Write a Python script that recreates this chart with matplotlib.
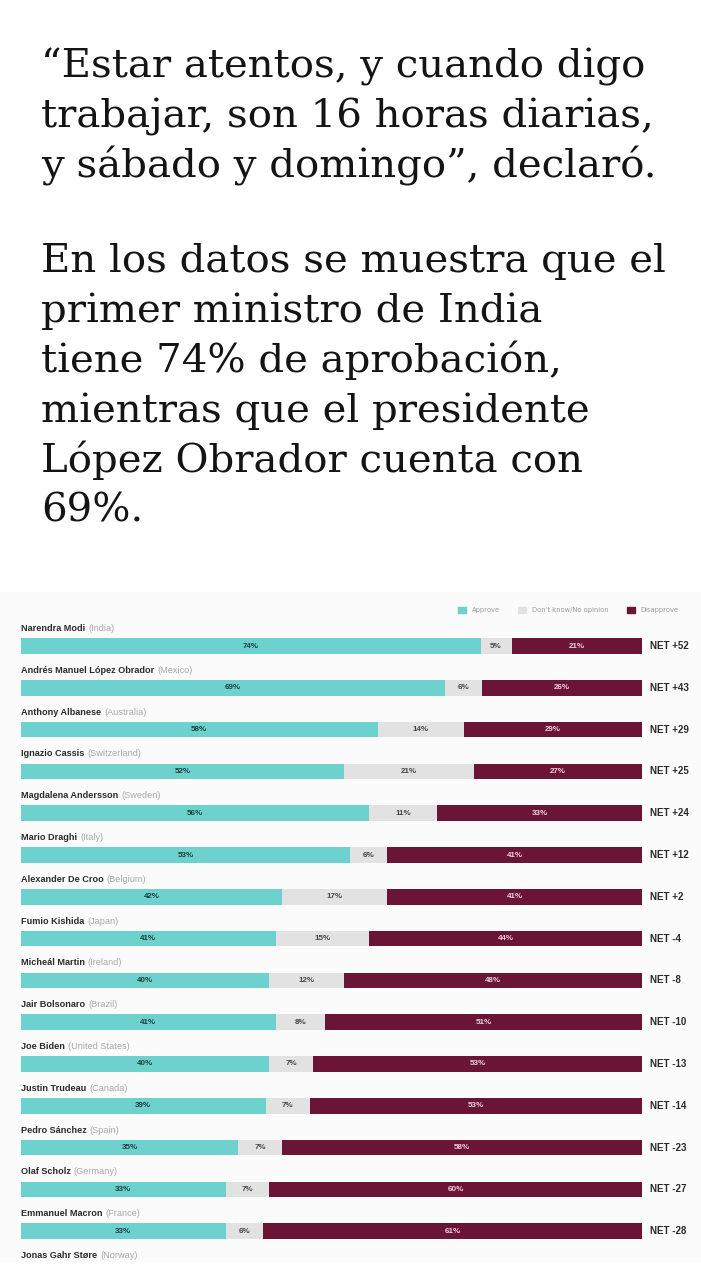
import matplotlib
matplotlib.use('Agg')
import matplotlib.pyplot as plt
from matplotlib.patches import Patch
import numpy as np

# ---- text above the chart ----
para1 = ["\u201cEstar atentos, y cuando digo",
         "trabajar, son 16 horas diarias,",
         "y s\u00e1bado y domingo\u201d, declar\u00f3."]
para2 = ["En los datos se muestra que el",
         "primer ministro de India",
         "tiene 74% de aprobaci\u00f3n,",
         "mientras que el presidente",
         "L\u00f3pez Obrador cuenta con",
         "69%."]

# ---- chart data ----
names = ["Narendra Modi", "Andr\u00e9s Manuel L\u00f3pez Obrador", "Anthony Albanese",
         "Ignazio Cassis", "Magdalena Andersson", "Mario Draghi",
         "Alexander De Croo", "Fumio Kishida", "Miche\u00e1l Martin",
         "Jair Bolsonaro", "Joe Biden", "Justin Trudeau",
         "Pedro S\u00e1nchez", "Olaf Scholz", "Emmanuel Macron",
         "Jonas Gahr St\u00f8re"]
countries = ["India", "Mexico", "Australia", "Switzerland", "Sweden", "Italy",
             "Belgium", "Japan", "Ireland", "Brazil", "United States", "Canada",
             "Spain", "Germany", "France", "Norway"]
approve = [74, 69, 58, 52, 56, 53, 42, 41, 40, 41, 40, 39, 35, 33, 33]
dont_know = [5, 6, 14, 21, 11, 6, 17, 15, 12, 8, 7, 7, 7, 7, 6]
disapprove = [21, 26, 29, 27, 33, 41, 41, 44, 48, 51, 53, 53, 58, 60, 61]
net = ["+52", "+43", "+29", "+25", "+24", "+12", "+2", "-4", "-8",
       "-10", "-13", "-14", "-23", "-27", "-28"]

TEAL = '#6dd2cd'
GREY = '#e2e2e2'
MAROON = '#6a1535'

W, H = 701, 1280
fig = plt.figure(figsize=(W / 100, H / 100), dpi=100)
fig.patch.set_facecolor('white')

def fy(px):
    return 1 - px / H

serif = dict(family='DejaVu Serif', fontsize=29, color='#141414', va='baseline', ha='left')
for i, line in enumerate(para1):
    fig.text(41 / W, fy(77 + i * 50.5), line, **serif)
for i, line in enumerate(para2):
    fig.text(41 / W, fy(272 + i * 50), line, **serif)

# faint panel behind the chart screenshot
fig.patches.append(plt.Rectangle((0, fy(1262)), 1, (1262 - 592) / H,
                                 transform=fig.transFigure, facecolor='#fbfbfb',
                                 edgecolor='none', zorder=-5))

ax = fig.add_axes([21 / W, fy(1262), 621 / W, (1262 - 592) / H])
ax.set_facecolor('none')
ax.axis('off')

a = np.array(approve, float)
d = np.array(dont_know, float)
n = np.array(disapprove, float)
tot = a + d + n
a_s, d_s, n_s = a / tot * 100, d / tot * 100, n / tot * 100
y = np.arange(len(approve))
bh = 0.37

ax.barh(y, a_s, height=bh, color=TEAL)
ax.barh(y, d_s, left=a_s, height=bh, color=GREY)
ax.barh(y, n_s, left=a_s + d_s, height=bh, color=MAROON)
ax.set_xlim(0, 100)
ax.set_ylim(14.737, -1.292)

lab = dict(ha='center', va='center', fontsize=5.8, fontweight='bold', family='Liberation Sans')
for i in y:
    ax.text(a_s[i] / 2, i, f"{approve[i]}%", color='#1e3d3c', **lab)
    ax.text(a_s[i] + d_s[i] / 2, i, f"{dont_know[i]}%", color='#444444', **lab)
    ax.text(a_s[i] + d_s[i] + n_s[i] / 2, i, f"{disapprove[i]}%", color='#f2d2dc', **lab)
    ax.text(101.3, i, f"NET {net[i]}", ha='left', va='center', fontsize=7,
            fontweight='bold', family='Liberation Sans', color='#2a2a2a')

for i, (nm, ct) in enumerate(zip(names, countries)):
    t = ax.text(0, i - 0.36, nm, ha='left', va='baseline', fontsize=6.6,
                fontweight='bold', family='Liberation Sans', color='#2b2b2b')
    ax.annotate(f"({ct})", xy=(1, 0), xycoords=t, xytext=(2, 0),
                textcoords='offset points', ha='left', va='bottom',
                fontsize=6.6, family='Liberation Sans', color='#a8a8a8')

handles = [Patch(color=TEAL, label='Approve'),
           Patch(color=GREY, label="Don't know/No opinion"),
           Patch(color=MAROON, label='Disapprove')]
fig.legend(handles=handles, loc='center right', bbox_to_anchor=(679 / W, fy(610)),
           ncol=3, frameon=False, fontsize=4.9, handlelength=1.2, handleheight=1.2,
           handletextpad=0.9, columnspacing=2.6, labelcolor='#999999',
           borderpad=0, borderaxespad=0)

fig.savefig('out.png', dpi=100, facecolor='white')
